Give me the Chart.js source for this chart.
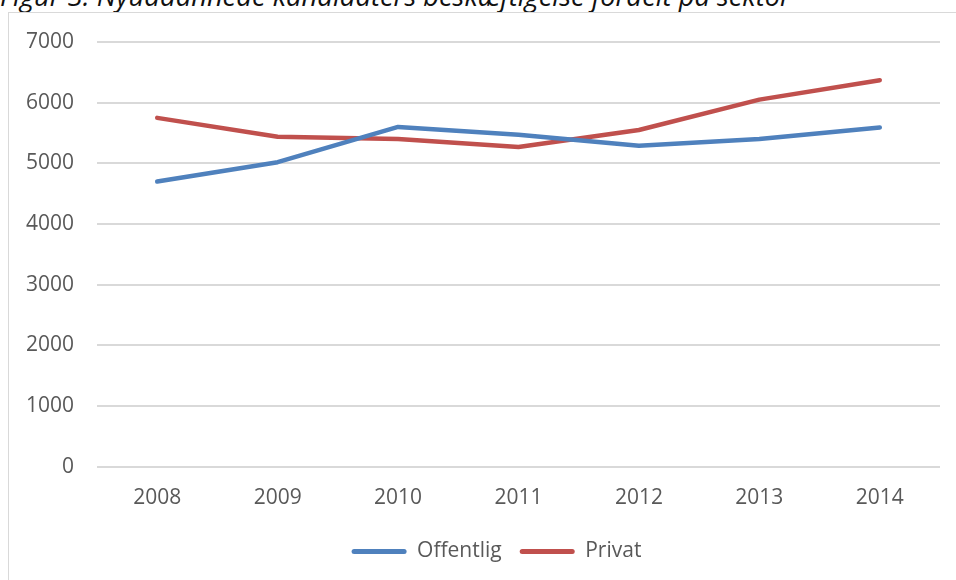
<!DOCTYPE html>
<html>
<head>
<meta charset="utf-8">
<script src="https://cdn.jsdelivr.net/npm/chart.js@4.4.0/dist/chart.umd.min.js"></script>
<style>
  html, body { margin: 0; padding: 0; background: #fff; overflow: hidden; }
  body { width: 956px; height: 580px; position: relative; }
  #title {
    position: absolute; left: 0; top: -20px; margin: 0;
    font-family: "Open Sans", sans-serif; font-style: italic; font-size: 27.3px;
    color: #111; white-space: nowrap; line-height: 32px;
  }
  #frame {
    position: absolute; left: 8px; top: 12px; width: 960px; height: 580px;
    border-left: 1.5px solid #d9d9d9; border-top: 1.5px solid #d9d9d9; background: #fff;
  }
  #wrap { position: absolute; left: 9px; top: 13px; width: 947px; height: 567px; }
</style>
</head>
<body>
<p id="title">Figur 3: Nyuddannede kandidaters beskæftigelse fordelt på sektor</p>
<div id="frame"></div>
<div id="wrap"><canvas id="c"></canvas></div>
<script>
// år og beskæftigede pr. sektor
var years = ["2008", "2009", "2010", "2011", "2012", "2013", "2014"];
var offentlig = [4700, 5020, 5600, 5470, 5290, 5400, 5590];
var privat = [5750, 5440, 5400, 5270, 5550, 6050, 6370];
var yTicks = [0, 1000, 2000, 3000, 4000, 5000, 6000, 7000];

var FONT = "'Open Sans', sans-serif";
var TXT = "#595959";

// flyt legenden lidt til højre som i Excel-figuren
var legendShift = {
  id: "legendShift",
  afterLayout: function(chart) {
    if (chart.legend) { chart.legend.left += 22; chart.legend.right += 22; }
  }
};

var ctx = document.getElementById("c").getContext("2d");
new Chart(ctx, {
  type: "line",
  data: {
    labels: years,
    datasets: [{
      label: "Offentlig",
      data: offentlig,
      borderColor: "#4f81bd",
      backgroundColor: "#4f81bd",
      borderWidth: 4.5,
      borderCapStyle: "round",
      borderJoinStyle: "round",
      pointRadius: 0,
      tension: 0
    }, {
      label: "Privat",
      data: privat,
      borderColor: "#c0504d",
      backgroundColor: "#c0504d",
      borderWidth: 4.5,
      borderCapStyle: "round",
      borderJoinStyle: "round",
      pointRadius: 0,
      tension: 0
    }]
  },
  plugins: [legendShift],
  options: {
    responsive: true,
    maintainAspectRatio: false,
    animation: false,
    layout: { padding: { top: 29, right: 16, bottom: 8, left: 0 } },
    plugins: {
      title: { display: false },
      tooltip: { enabled: false },
      legend: {
        position: "bottom",
        labels: {
          font: { family: FONT, size: 21 },
          color: TXT,
          boxWidth: 55,
          boxHeight: 5,
          padding: 18,
          useBorderRadius: true,
          borderRadius: 2.5,
          generateLabels: function(chart) {
            var items = Chart.defaults.plugins.legend.labels.generateLabels(chart);
            items.forEach(function(it) { it.lineWidth = 0; });
            return items;
          }
        }
      }
    },
    scales: {
      x: {
        offset: true,
        afterFit: function(scale) { scale.height -= 7; },
        grid: { display: false, drawTicks: false },
        border: { display: false },
        ticks: { color: TXT, font: { family: FONT, size: 21 }, padding: 19, maxRotation: 0 }
      },
      y: {
        min: 0,
        max: 7000,
        afterBuildTicks: function(scale) {
          scale.ticks = yTicks.map(function(v) { return { value: v }; });
        },
        afterFit: function(scale) {
          scale.width = 88;
          scale.paddingTop = 0;
          scale.paddingBottom = 0;
        },
        grid: { color: "#d9d9d9", lineWidth: 2, drawTicks: false },
        border: { display: false },
        ticks: {
          color: TXT, font: { family: FONT, size: 21 }, padding: 23,
          callback: function(v) { return String(v); }
        }
      }
    }
  }
});
</script>
</body>
</html>
